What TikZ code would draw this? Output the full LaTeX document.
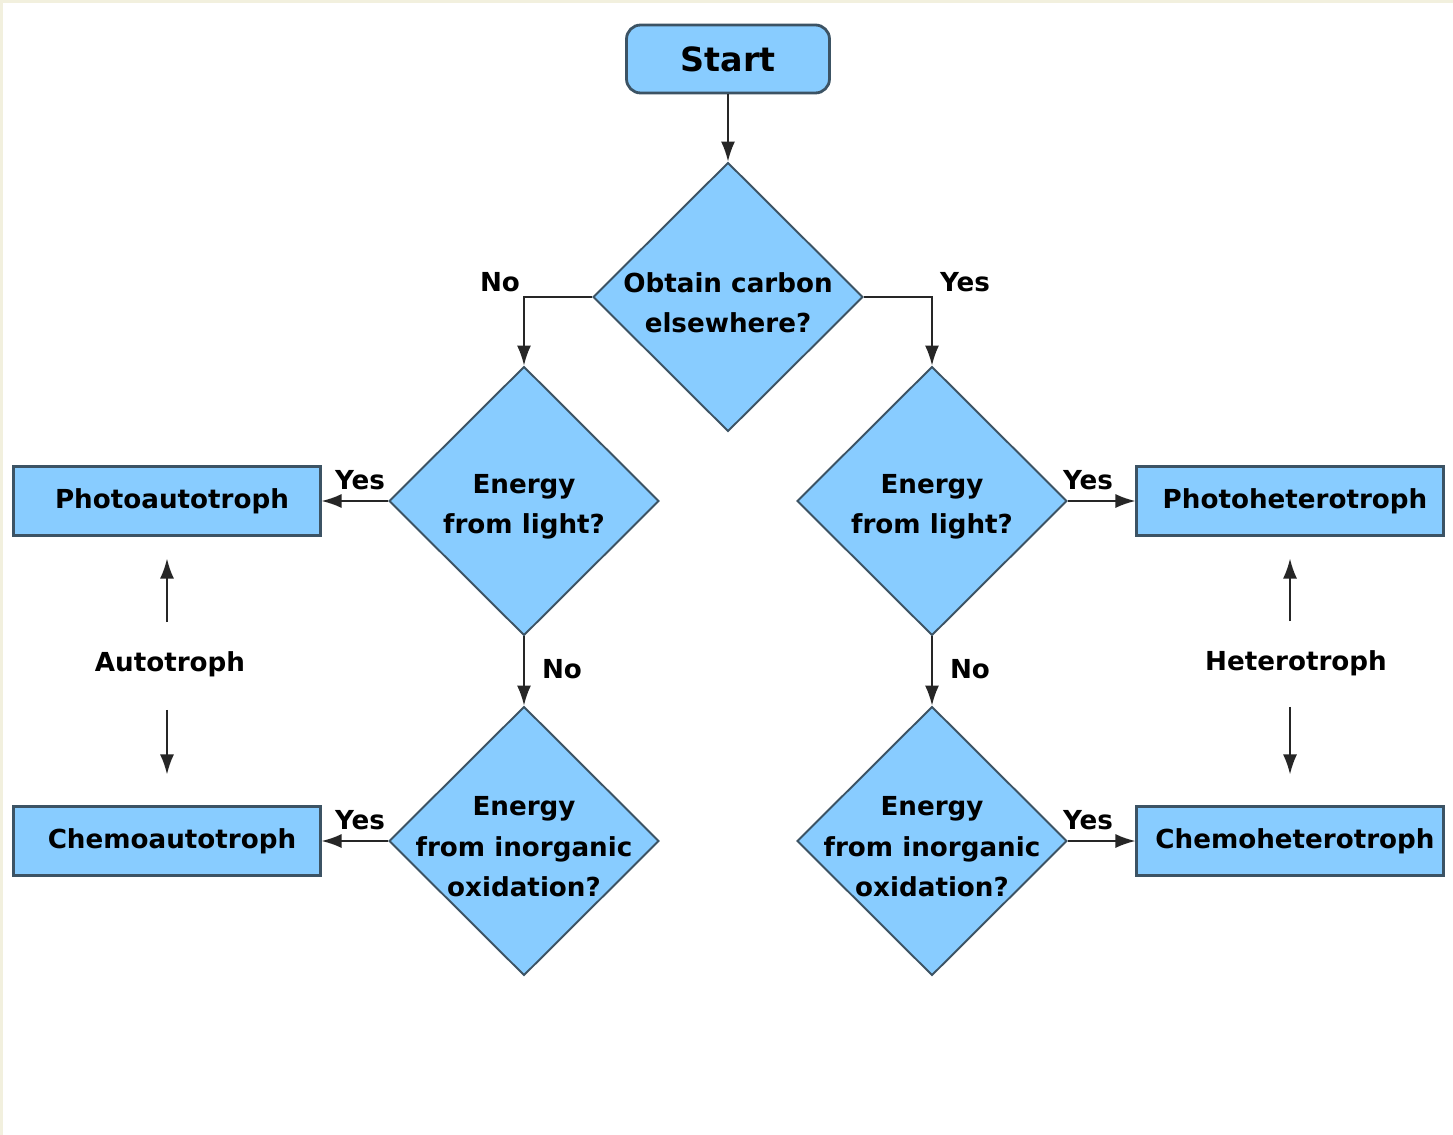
\documentclass[tikz,border=0pt]{standalone}
\usepackage{fontspec}
\setmainfont{DejaVu Sans}
\usetikzlibrary{shapes.geometric, arrows.meta, positioning}

\definecolor{boxblue}{HTML}{88CCFF}
\definecolor{edgegray}{HTML}{3C5364}
\definecolor{cream}{HTML}{F2F0DE}

\begin{document}
\begin{tikzpicture}[x=0.02cm, y=-0.02cm,
    txt/.style={font=\fontsize{14.9}{23}\selectfont\bfseries, align=center},
    startbox/.style={draw=edgegray, line width=1.6pt, fill=boxblue, rounded corners=8pt, minimum width=4.06cm, minimum height=1.36cm, font=\fontsize{19}{22}\selectfont\bfseries},
    decision/.style={draw=edgegray, line width=1.1pt, fill=boxblue, diamond, minimum width=5.4cm, minimum height=5.38cm, inner sep=0pt},
    result/.style={draw=edgegray, line width=1.2pt, fill=boxblue, rectangle, minimum width=6.14cm, minimum height=1.38cm, txt},
    flow/.style={draw=black!85, line width=1.1pt, -{Latex[length=0.4cm, width=0.28cm]}},
    ]

    % background with thin cream edge
    \fill[cream] (0,0) rectangle (1453,1135);
    \fill[white] (3,3) rectangle (1453,1135);
    \useasboundingbox (0,0) rectangle (1453,1135);

    % Start and first question
    \node[startbox] (start) at (728,59) {Start};
    \node[decision, label={[txt, yshift=-0.12cm]center:{Obtain carbon\\elsewhere?}}] (carbon) at (728,297) {};

    % Left branch (no)
    \node[decision, label={[txt, yshift=-0.12cm]center:{Energy\\from light?}}] (lightA) at (524,501) {};
    \node[decision, label={[txt, yshift=-0.12cm]center:{Energy\\from inorganic\\oxidation?}}] (inorgA) at (524,841) {};
    \node[result] (photoA) at (167,501) {\hspace*{0.2cm}Photoautotroph};
    \node[result] (chemoA) at (167,841) {\hspace*{0.2cm}Chemoautotroph};

    % Right branch (yes)
    \node[decision, label={[txt, yshift=-0.12cm]center:{Energy\\from light?}}] (lightH) at (932,501) {};
    \node[decision, label={[txt, yshift=-0.12cm]center:{Energy\\from inorganic\\oxidation?}}] (inorgH) at (932,841) {};
    \node[result] (photoH) at (1290,501) {\hspace*{0.2cm}Photoheterotroph};
    \node[result] (chemoH) at (1290,841) {\hspace*{0.2cm}Chemoheterotroph};

    % Group labels
    \node[txt] (auto) at (170,664) {Autotroph};
    \node[txt] (hetero) at (1296,663) {Heterotroph};

    % Connectors
    \draw[flow] (start) -- (carbon);
    \draw[flow] (carbon.west) -| (lightA.north);
    \draw[flow] (carbon.east) -| (lightH.north);
    \draw[flow] (lightA.west) -- (photoA.east);
    \draw[flow] (lightA.south) -- (inorgA.north);
    \draw[flow] (inorgA.west) -- (chemoA.east);
    \draw[flow] (lightH.east) -- (photoH.west);
    \draw[flow] (lightH.south) -- (inorgH.north);
    \draw[flow] (inorgH.east) -- (chemoH.west);

    \draw[flow, shorten <=0.46cm, shorten >=0.44cm] (auto.north -| photoA) -- (photoA.south);
    \draw[flow, shorten <=0.54cm, shorten >=0.62cm] (auto.south -| chemoA) -- (chemoA.north);
    \draw[flow, shorten <=0.46cm, shorten >=0.44cm] (hetero.north -| photoH) -- (photoH.south);
    \draw[flow, shorten <=0.50cm, shorten >=0.62cm] (hetero.south -| chemoH) -- (chemoH.north);

    % Yes / No labels
    \node[txt] (noC) at (500,282) {No};
    \node[txt] (yesC) at (965,282) {Yes};
    \node[txt] (yesLA) at (360,480) {Yes};
    \node[txt] (noLA) at (562,669) {No};
    \node[txt] (yesIA) at (360,820) {Yes};
    \node[txt] (yesLH) at (1088,480) {Yes};
    \node[txt] (noLH) at (970,669) {No};
    \node[txt] (yesIH) at (1088,820) {Yes};

\end{tikzpicture}
\end{document}
